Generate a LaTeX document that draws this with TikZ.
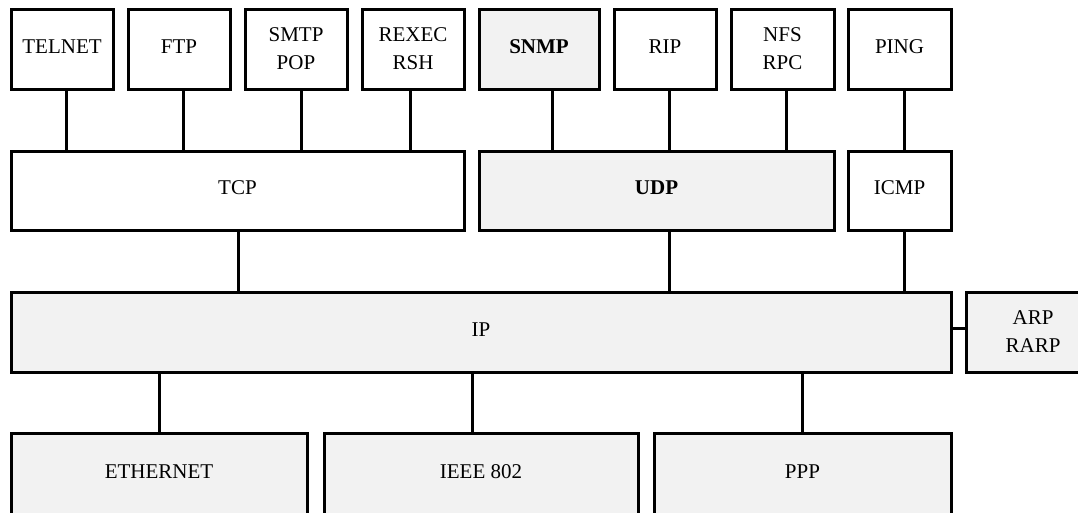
\documentclass[tikz,border=0pt]{standalone}
\usepackage{fontspec}
\setmainfont{Liberation Serif}
\definecolor{layergray}{HTML}{F2F2F2}
\tikzset{
  blk/.style={draw=black, line width=3pt, fill=white, inner sep=0pt, outer sep=0pt,
    align=center, text depth=5pt, font=\fontsize{21}{28}\selectfont},
  gblk/.style={blk, fill=layergray},
  twoline/.style={text depth=0pt},
  wire/.style={draw=black, line width=3pt}
}
\begin{document}
\begin{tikzpicture}[x=1pt, y=-1pt]
\useasboundingbox (0,0) rectangle (1078,512);
\clip (0,0) rectangle (1078,512);

% application protocols
\node[blk,  minimum width=102pt, minimum height=80pt] (telnet) at (62,49)    {TELNET};
\node[blk,  minimum width=102pt, minimum height=80pt] (ftp)    at (179,49)   {FTP};
\node[blk,  twoline, minimum width=102pt, minimum height=80pt] (smtp)   at (296,49)   {SMTP\\POP};
\node[blk,  twoline, minimum width=102pt, minimum height=80pt] (rexec)  at (413,49)   {REXEC\\RSH};
\node[gblk, minimum width=120pt, minimum height=80pt] (snmp)   at (539,49)   {\textbf{SNMP}};
\node[blk,  minimum width=102pt, minimum height=80pt] (rip)    at (665,49)   {RIP};
\node[blk,  twoline, minimum width=103pt, minimum height=80pt] (nfs)    at (782.5,49) {NFS\\RPC};
\node[blk,  minimum width=103pt, minimum height=80pt] (ping)   at (899.5,49) {PING};

% transport layer
\node[blk,  minimum width=453pt, minimum height=79pt] (tcp)  at (237.5,190.5) {TCP};
\node[gblk, minimum width=355pt, minimum height=79pt] (udp)  at (656.5,190.5) {\textbf{UDP}};
\node[blk,  minimum width=103pt, minimum height=79pt] (icmp) at (899.5,190.5) {ICMP};

% network layer
\node[gblk, minimum width=940pt, minimum height=80pt] (ip)  at (481,332)  {IP};
\node[gblk, twoline, minimum width=134pt, minimum height=80pt] (arp) at (1033,332) {ARP\\RARP};

% link layer (lower edge runs past the page)
\node[gblk, minimum width=296pt, minimum height=82pt] (eth)  at (159,474)   {ETHERNET};
\node[gblk, minimum width=314pt, minimum height=82pt] (ieee) at (481,474)   {IEEE 802};
\node[gblk, minimum width=297pt, minimum height=82pt] (ppp)  at (802.5,474) {PPP};

% applications to transport
\draw[wire] ([xshift=4.7pt]telnet.south) -- ([xshift=4.7pt]telnet.south |- tcp.north);
\draw[wire] ([xshift=4pt]ftp.south)      -- ([xshift=4pt]ftp.south |- tcp.north);
\draw[wire] ([xshift=5pt]smtp.south)     -- ([xshift=5pt]smtp.south |- tcp.north);
\draw[wire] ([xshift=-3pt]rexec.south)   -- ([xshift=-3pt]rexec.south |- tcp.north);
\draw[wire] ([xshift=13pt]snmp.south)    -- ([xshift=13pt]snmp.south |- udp.north);
\draw[wire] ([xshift=4pt]rip.south)      -- ([xshift=4pt]rip.south |- udp.north);
\draw[wire] ([xshift=3.5pt]nfs.south)    -- ([xshift=3.5pt]nfs.south |- udp.north);
\draw[wire] ([xshift=4.5pt]ping.south)   -- ([xshift=4.5pt]ping.south |- icmp.north);

% transport to network
\draw[wire] ([xshift=0.5pt]tcp.south)   -- ([xshift=0.5pt]tcp.south |- ip.north);
\draw[wire] ([xshift=12.5pt]udp.south)  -- ([xshift=12.5pt]udp.south |- ip.north);
\draw[wire] ([xshift=4.5pt]icmp.south)  -- ([xshift=4.5pt]icmp.south |- ip.north);
\draw[wire] ([yshift=4pt]ip.east) -- ([yshift=4pt]ip.east -| arp.west);

% network to link
\draw[wire] (ip.south -| eth.north)               -- (eth.north);
\draw[wire] ([xshift=-9pt]ieee.north |- ip.south) -- ([xshift=-9pt]ieee.north);
\draw[wire] (ip.south -| ppp.north)               -- (ppp.north);
\end{tikzpicture}
\end{document}
